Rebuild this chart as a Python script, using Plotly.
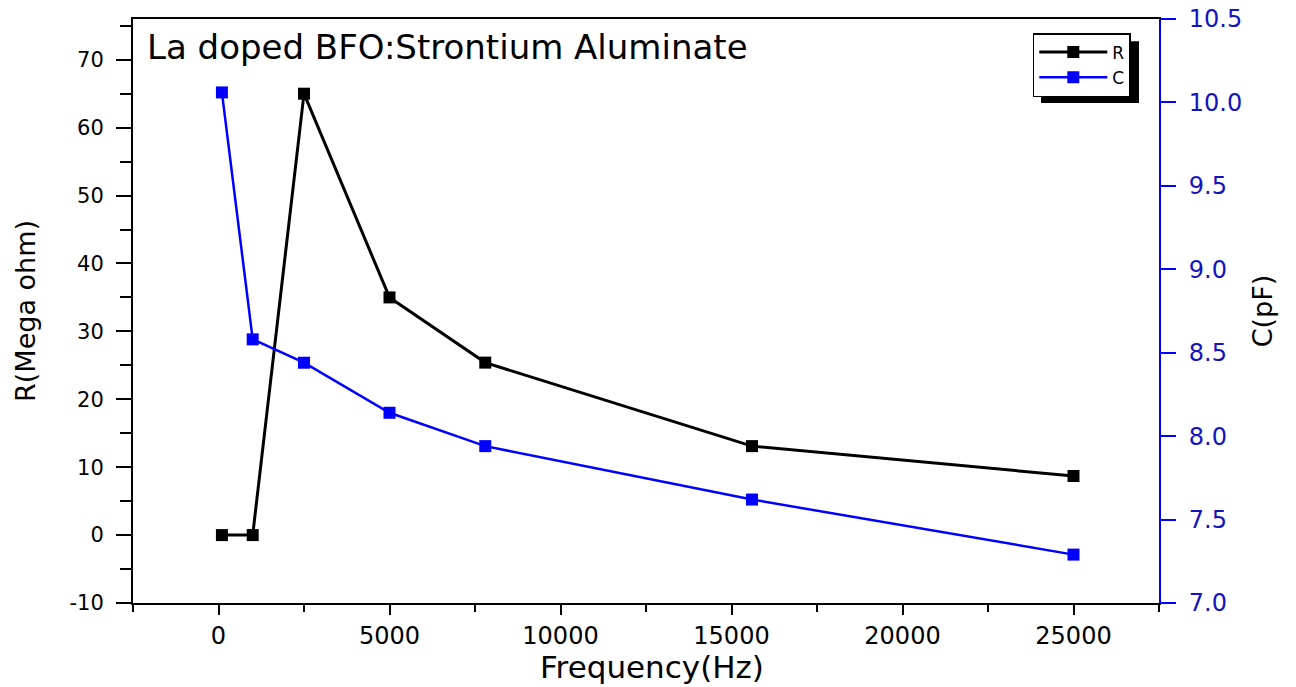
import plotly.graph_objects as go

freq = [100, 1000, 2500, 5000, 7800, 15600, 25000]
R_mohm = [0.0, 0.0, 65.0, 35.0, 25.4, 13.1, 8.7]
C_pf = [10.06, 8.58, 8.44, 8.14, 7.94, 7.62, 7.29]

x_ticks = [0, 5000, 10000, 15000, 20000, 25000]
x_ticktext = ["0", "5000", "10000", "15000", "20000", "25000"]
y1_ticks = [-10, 0, 10, 20, 30, 40, 50, 60, 70]
y1_ticktext = ["-10", "0", "10", "20", "30", "40", "50", "60", "70"]
y2_ticks = [7.0, 7.5, 8.0, 8.5, 9.0, 9.5, 10.0, 10.5]
y2_ticktext = ["7.0", "7.5", "8.0", "8.5", "9.0", "9.5", "10.0", "10.5"]

title_text = "La doped BFO:Strontium Aluminate"
x_title = "Frequency(Hz)"
y1_title = "R(Mega ohm)"
y2_title = "C(pF)"

BLUE = "#0000FF"
TICKBLUE = "#1414BE"
FONT = "DejaVu Sans, Liberation Sans, Arial, sans-serif"

fig = go.Figure()
fig.add_trace(go.Scatter(x=freq, y=R_mohm, name="R", mode="lines+markers",
                         line=dict(color="black", width=3),
                         marker=dict(symbol="square", size=12, color="black"),
                         yaxis="y"))
fig.add_trace(go.Scatter(x=freq, y=C_pf, name="C", mode="lines+markers",
                         line=dict(color=BLUE, width=2.5),
                         marker=dict(symbol="square", size=12, color=BLUE),
                         yaxis="y2"))

fig.update_layout(
    width=1296, height=687,
    margin=dict(l=133, r=137, t=19, b=84, autoexpand=False),
    paper_bgcolor="white", plot_bgcolor="white",
    showlegend=True,
    legend=dict(x=0.877, y=0.976, xanchor="left", yanchor="top",
                bgcolor="white", bordercolor="black", borderwidth=1.5,
                font=dict(family=FONT, size=17, color="black"),
                itemwidth=68, tracegroupgap=0),
    xaxis=dict(range=[-2500, 27500], tickvals=x_ticks, ticktext=x_ticktext, automargin=False,
               showgrid=False, zeroline=False, showline=True, linecolor="black", linewidth=2,
               mirror=True, ticks="outside", ticklen=10, tickwidth=2, tickcolor="black",
               minor=dict(dtick=2500, ticks="outside", ticklen=7, tickwidth=2, tickcolor="black", showgrid=False),
               ticklabelstandoff=0,
               tickfont=dict(family=FONT, size=24, color="black")),
    yaxis=dict(range=[-10, 76], tickvals=y1_ticks, ticktext=y1_ticktext, automargin=False,
               showgrid=False, zeroline=False, showline=True, linecolor="black", linewidth=2,
               ticks="outside", ticklen=15, tickwidth=2, tickcolor="black",
               minor=dict(dtick=5, ticks="outside", ticklen=11, tickwidth=2, tickcolor="black", showgrid=False),
               ticklabelstandoff=8,
               tickfont=dict(family=FONT, size=21, color="black"),
               title=dict(text=y1_title, font=dict(family=FONT, size=27, color="black"), standoff=26)),
    yaxis2=dict(range=[7.0, 10.5], tickvals=y2_ticks, ticktext=y2_ticktext, automargin=False,
                overlaying="y", side="right", anchor="x",
                showgrid=False, zeroline=False, showline=True, linecolor=BLUE, linewidth=2,
                ticks="outside", ticklen=15, tickwidth=2, tickcolor=BLUE,
                ticklabelstandoff=8,
                tickfont=dict(family=FONT, size=24, color=TICKBLUE),
                title=dict(text=y2_title, font=dict(family=FONT, size=27, color="black"), standoff=12)),
    annotations=[
        dict(text=title_text, xref="paper", yref="paper", x=0.012, y=0.952,
             xanchor="left", yanchor="middle", showarrow=False,
             font=dict(family=FONT, size=34, color="black")),
        dict(text=x_title, xref="paper", yref="paper", x=0.506, y=-0.1438,
             xanchor="center", yanchor="bottom", showarrow=False,
             font=dict(family=FONT, size=31, color="black")),
    ],
    shapes=[dict(type="rect", xref="paper", yref="paper", x0=0.885, x1=0.9805, y0=0.856, y1=0.962,
                 fillcolor="black", line=dict(width=0), layer="above")],
)

fig.write_html("out.html")
